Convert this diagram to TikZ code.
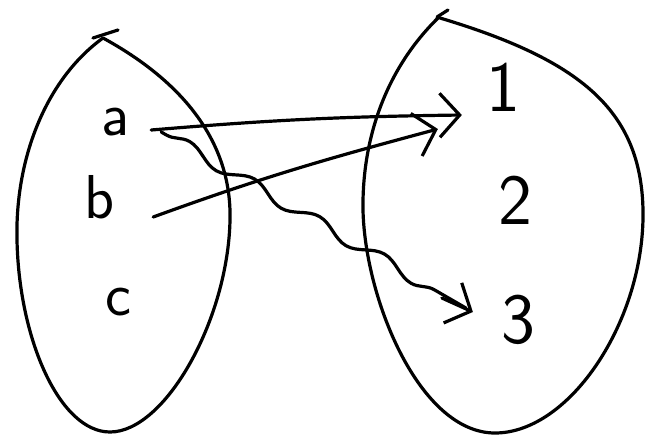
\documentclass[tikz,border=0pt]{standalone}
\usetikzlibrary{arrows.meta,decorations.pathmorphing,calc}
\begin{document}
\begin{tikzpicture}[x=1pt,y=-1pt,line cap=round,line join=round,
  stroke/.style={line width=3.2pt},
  lbl/.style={font=\sffamily\fontsize{62}{62}\selectfont,inner sep=0pt},
  num/.style={font=\sffamily\fontsize{72}{72}\selectfont,inner sep=0pt},
  conn/.style={stroke,-{Straight Barb[length=20pt,width=44pt,line width=3.2pt]}}]
\useasboundingbox (0,0) rectangle (651,440);
% left set
\draw[stroke] (103,38) .. controls (45,80) and (15,160) .. (17,240)
  .. controls (19,340) and (60,432) .. (110,432)
  .. controls (165,432) and (228,320) .. (230,220)
  .. controls (232,140) and (180,80) .. (103,38);
\draw[stroke] (93,38) -- (118,30);
% right set
\draw[stroke] (438,18) .. controls (385,70) and (362,140) .. (363,210)
  .. controls (365,300) and (420,433) .. (495,433)
  .. controls (570,433) and (645,320) .. (643,210)
  .. controls (641,110) and (580,60) .. (440,18);
\draw[stroke] (437,17) -- (448,10);
% labels
\node[lbl] (a) at (115,122) {a};
\node[lbl] (b) at (100,197) {b};
\node[lbl] (c) at (118,302) {c};
\node[num] (n1) at (503,87) {1};
\node[num] (n2) at (515,200) {2};
\node[num] (n3) at (518,320) {3};
% connectors
\draw[conn] ($(a.east)+(22,8)$) to[bend left=2] ($(n1.west)+(-24,28)$);
\draw[conn] ($(b.east)+(38,20)$) to[out=20,in=195] ($(n1.west)+(-48,42)$);
\draw[stroke,decorate,decoration={snake,amplitude=6pt,segment length=75pt,pre length=6pt,post length=24pt}]
  ($(a.east)+(32,10)$) -- ($(n3.west)+(-35,-12)$);
\draw[conn] ($(n3.west)+(-59,-22)$) -- ($(n3.west)+(-28,-8)$);
\end{tikzpicture}
\end{document}
